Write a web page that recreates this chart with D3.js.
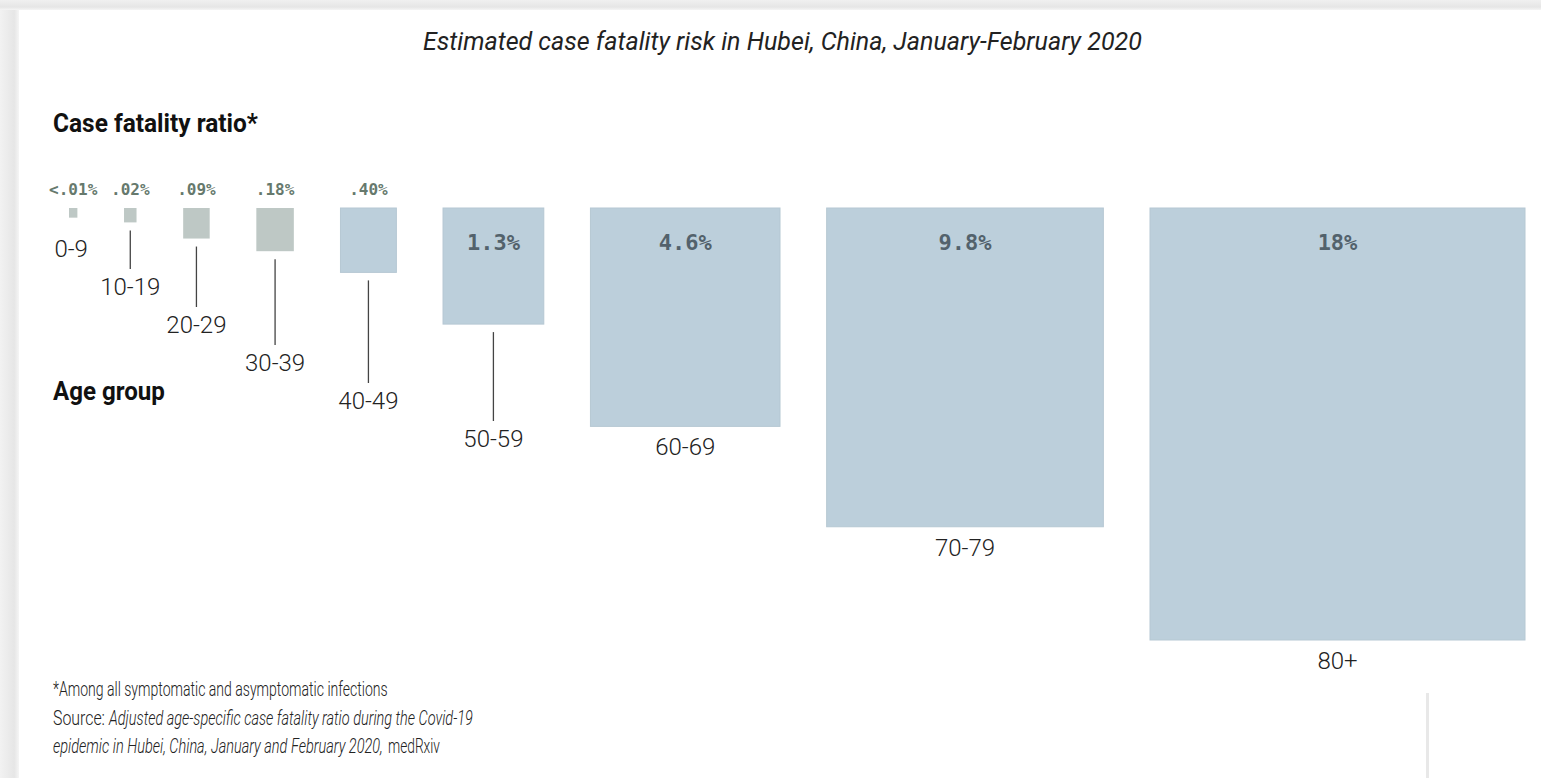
<!DOCTYPE html>
<html>
<head>
<meta charset="utf-8">
<script src="https://cdn.jsdelivr.net/npm/d3@7"></script>
<style>
  body { margin: 0; background: #fff; }
  svg { display: block; }
  text { font-family: Roboto, "Noto Sans", sans-serif; }
</style>
</head>
<body>
<svg id="chart" width="1541" height="778"></svg>
<script>
// case fatality ratio by age group (percent)
let ageGroups = ['0-9', '10-19', '20-29', '30-39', '40-49', '50-59', '60-69', '70-79', '80+'];
let cfrValues = [0.009, 0.02, 0.09, 0.18, 0.40, 1.3, 4.6, 9.8, 18];
let cfrLabels = ['<.01%', '.02%', '.09%', '.18%', '.40%', '1.3%', '4.6%', '9.8%', '18%'];

let data = ageGroups.map((g, i) => ({ age: g, value: cfrValues[i], label: cfrLabels[i], index: i }));

const W = 1541, H = 778;
const svg = d3.select('#chart');

// page frame (shaded edges of the screenshot)
let defs = svg.append('defs');
let gl = defs.append('linearGradient').attr('id', 'leftShade').attr('x1', 0).attr('x2', 1).attr('y1', 0).attr('y2', 0);
gl.append('stop').attr('offset', '0%').attr('stop-color', '#f2f2f2');
gl.append('stop').attr('offset', '75%').attr('stop-color', '#e6e6e6');
gl.append('stop').attr('offset', '100%').attr('stop-color', '#f5f5f5');
let gt = defs.append('linearGradient').attr('id', 'topShade').attr('x1', 0).attr('x2', 0).attr('y1', 0).attr('y2', 1);
gt.append('stop').attr('offset', '0%').attr('stop-color', '#f0f0f0');
gt.append('stop').attr('offset', '70%').attr('stop-color', '#e6e6e6');
gt.append('stop').attr('offset', '100%').attr('stop-color', '#f5f5f5');

svg.append('rect').attr('x', 0).attr('y', 0).attr('width', 19).attr('height', H).attr('fill', 'url(#leftShade)');
svg.append('rect').attr('x', 0).attr('y', 0).attr('width', W).attr('height', 10).attr('fill', 'url(#topShade)');
svg.append('rect').attr('x', 1426).attr('y', 693).attr('width', 3).attr('height', H - 693).attr('fill', '#e8e8e8');
svg.append('rect').attr('x', 1429).attr('y', 693).attr('width', W - 1429).attr('height', H - 693).attr('fill', '#fff');

// scales: square area proportional to the ratio
let wScale = d3.scaleSqrt().domain([0, 18]).range([0, 375]);
let hScale = d3.scaleSqrt().domain([0, 18]).range([0, 432]);

let boxTop = 208, boxLeft = 69, boxRight = 1525;
let totalW = d3.sum(data, d => wScale(d.value));
let gap = (boxRight - boxLeft - totalW) / (data.length - 1);
let xPos = boxLeft;
data.forEach(d => {
    d.x = xPos;
    d.w = wScale(d.value);
    d.h = hScale(d.value);
    d.cx = d.x + d.w / 2;
    d.bottom = boxTop + d.h;
    xPos += d.w + gap;
});

// age label baselines: staircase for small boxes, below the box for big ones
let stair = d3.scaleLinear().domain([0, 5]).range([257, 447]);
data.forEach(d => {
    d.labelY = d.index <= 5 ? stair(d.index) : d.bottom + 29;
});

let g = svg.append('g');

g.selectAll('rect.box')
    .data(data)
    .enter()
    .append('rect')
    .attr('class', 'box')
    .attr('x', d => d.x)
    .attr('y', boxTop)
    .attr('width', d => d.w)
    .attr('height', d => d.h)
    .attr('fill', d => d.value < 0.3 ? '#bec8c5' : '#bccfdb')
    .attr('stroke', d => d.value < 0.3 ? 'none' : '#b6c8d3')
    .attr('stroke-width', 1);

// value labels
g.selectAll('text.val')
    .data(data)
    .enter()
    .append('text')
    .attr('class', 'val')
    .attr('x', d => d.cx)
    .attr('y', d => d.w > 80 ? boxTop + 42 : 195)
    .attr('text-anchor', 'middle')
    .style('font-family', '"DejaVu Sans Mono", monospace')
    .style('font-weight', 'bold')
    .style('font-size', d => d.w > 80 ? '22px' : '16px')
    .attr('fill', d => d.w > 80 ? '#53626c' : '#66796d')
    .text(d => d.label);

// leader lines
g.selectAll('line.lead')
    .data(data.filter(d => d.labelY - 18 - d.bottom > 30))
    .enter()
    .append('line')
    .attr('class', 'lead')
    .attr('x1', d => d.cx)
    .attr('x2', d => d.cx)
    .attr('y1', d => d.bottom + 8)
    .attr('y2', d => d.labelY - 26)
    .attr('stroke', '#444')
    .attr('stroke-width', 1.3);

// age labels
g.selectAll('text.age')
    .data(data)
    .enter()
    .append('text')
    .attr('class', 'age')
    .attr('x', d => d.index === 0 ? d.cx - 2 : d.cx)
    .attr('y', d => d.labelY)
    .attr('text-anchor', 'middle')
    .style('font-size', '24px')
    .style('font-weight', 300)
    .attr('fill', '#222')
    .text(d => d.age);

// condensed text: squeeze horizontally to a target width
let narrow = (x, y, len, txt, size, weight, italic, fill) => {
    let t = svg.append('text')
        .style('font-size', size + 'px')
        .style('font-weight', weight)
        .style('font-style', italic ? 'italic' : 'normal')
        .attr('fill', fill)
        .text(txt);
    let natural = t.node().getComputedTextLength();
    t.attr('transform', `translate(${x},${y}) scale(${len / natural},1)`);
    return t;
};

// titles
narrow(423, 50, 719, 'Estimated case fatality risk in Hubei, China, January-February 2020', 25, 400, true, '#222');
narrow(53, 132, 205, 'Case fatality ratio*', 25, 700, false, '#111');
narrow(53, 400, 112, 'Age group', 25, 700, false, '#111');

// footnotes
narrow(53, 696, 335, '*Among all symptomatic and asymptomatic infections', 20, 300, false, '#222');
narrow(53, 725, 52, 'Source:', 20, 300, false, '#222');
narrow(109, 725, 364, 'Adjusted age-specific case fatality ratio during the Covid-19', 20, 300, true, '#222');
narrow(53, 753, 330, 'epidemic in Hubei, China, January and February 2020,', 20, 300, true, '#222');
narrow(388, 753, 52, 'medRxiv', 20, 300, false, '#222');
</script>
</body>
</html>
